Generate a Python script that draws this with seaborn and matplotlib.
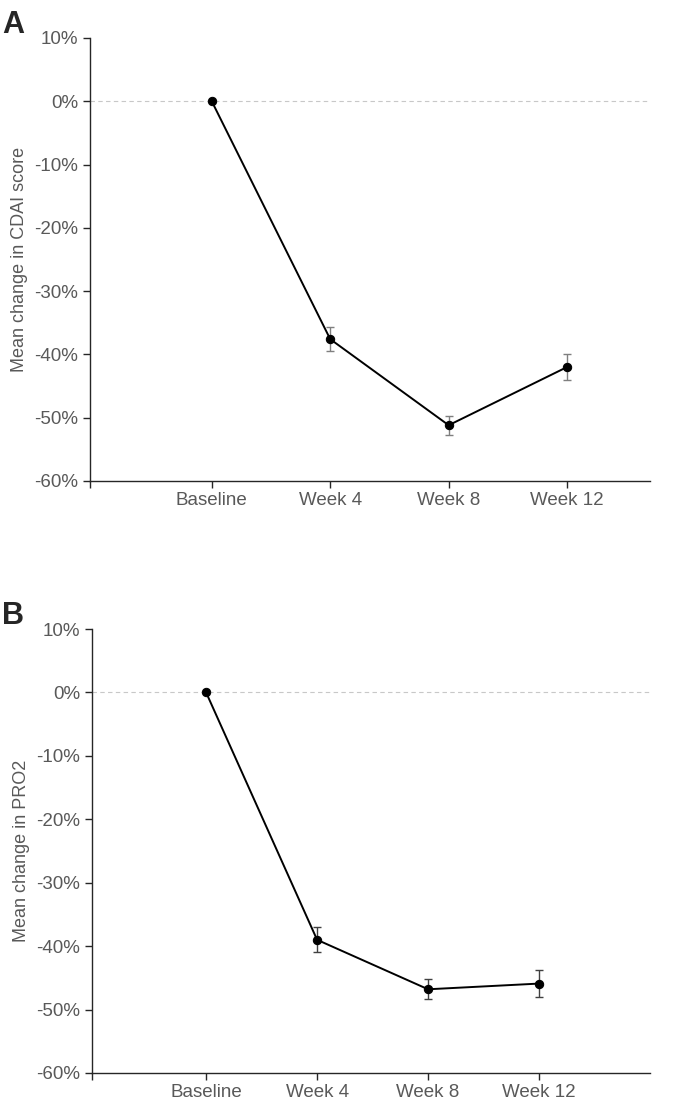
import pandas as pd
import numpy as np
import matplotlib.pyplot as plt
import seaborn as sns

sns.set_style("white")
plt.rcParams['font.family'] = ['Liberation Sans', 'DejaVu Sans']

visits = ['Baseline', 'Week 4', 'Week 8', 'Week 12']
cdai_change = [0.0, -37.6, -51.2, -42.0]
cdai_err = [0.0, 1.9, 1.5, 2.1]
pro2_change = [0.0, -39.0, -46.8, -45.9]
pro2_err = [0.0, 2.0, 1.6, 2.1]

fig = plt.figure(figsize=(6.85, 11.03), dpi=100)
ax_a = fig.add_axes([0.131, 0.564, 0.818, 0.4016])
ax_b = fig.add_axes([0.134, 0.0272, 0.815, 0.4025])

grey = '#595959'

def draw_panel(ax, vals, errs, ylabel, err_color, xmax):
    df = pd.DataFrame({'visit': visits, 'change': vals})
    ax.axhline(0, color='#c8c8c8', lw=0.8, ls=(0, (4, 3)), zorder=0)
    sns.lineplot(data=df, x='visit', y='change', ax=ax, color='black', lw=1.4,
                 marker='o', markersize=6, markeredgecolor='black', zorder=3)
    ax.errorbar(visits[1:], vals[1:], yerr=errs[1:], fmt='none', ecolor=err_color,
                elinewidth=1.0, capsize=3, capthick=1.0, zorder=2)
    ax.set_xlim(-1.03, xmax)
    ax.set_ylim(-60, 10)
    ax.set_yticks(np.arange(-60, 11, 10))
    ax.set_yticklabels([f'{t}%' for t in range(-60, 11, 10)])
    ax.set_xlabel('')
    ax.set_ylabel(ylabel, color=grey, fontsize=13, labelpad=4)
    for s in ['top', 'right']:
        ax.spines[s].set_visible(False)
    for s in ['left', 'bottom']:
        ax.spines[s].set_color('#262626')
        ax.spines[s].set_linewidth(1.0)
    ax.set_xticks([-1.03], minor=True)
    ax.tick_params(axis='both', which='both', direction='out', length=5,
                   width=1.0, color='#262626', labelcolor=grey, labelsize=13.5,
                   bottom=True, left=True)
    ax.tick_params(axis='x', pad=3)
    ax.grid(False)

draw_panel(ax_a, cdai_change, cdai_err, 'Mean change in CDAI score', '#7f7f7f', 3.7)
draw_panel(ax_b, pro2_change, pro2_err, 'Mean change in PRO2', '#404040', 4.0)

fig.text(0.003, 0.97, 'A', fontsize=22, fontweight='bold')
fig.text(0.003, 0.434, 'B', fontsize=22, fontweight='bold')

fig.savefig('out.png', dpi=100)
